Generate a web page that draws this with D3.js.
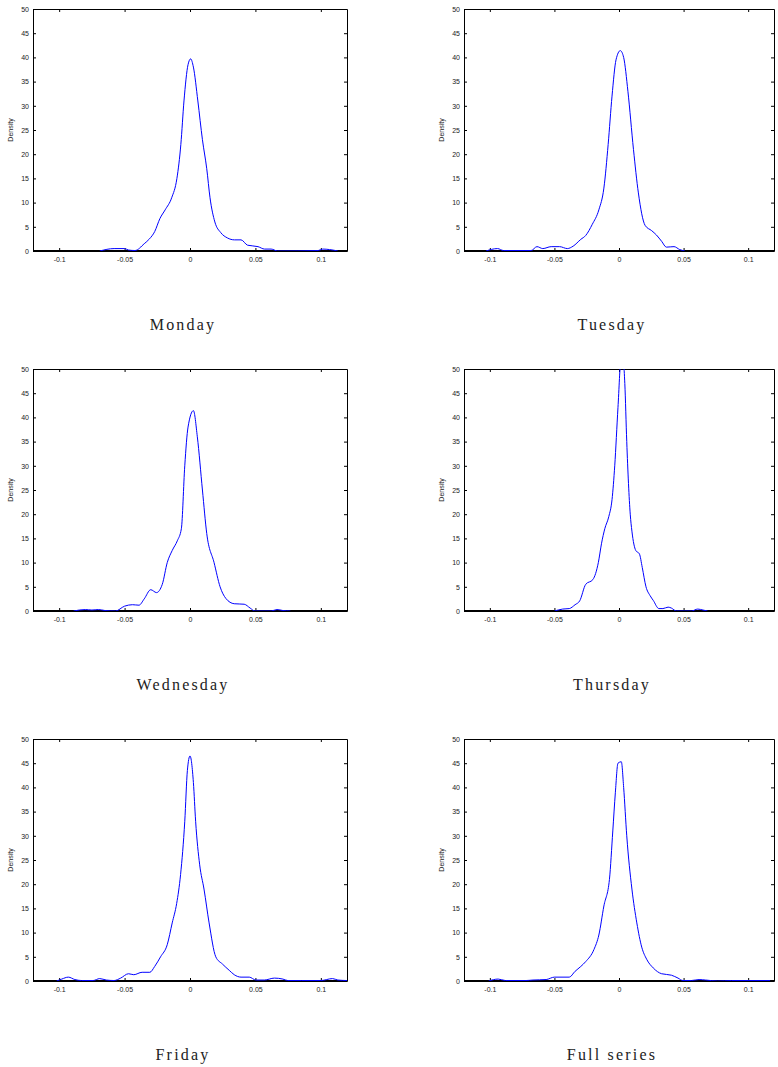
<!DOCTYPE html>
<html>
<head>
<meta charset="utf-8">
<script src="https://cdn.jsdelivr.net/npm/d3@7"></script>
<style>
  body { margin: 0; background: #fff; }
  svg { display: block; }
</style>
</head>
<body>
<script>
//------------ DATA ----------------------------------
const days = ["Monday", "Tuesday", "Wednesday", "Thursday", "Friday", "Full series"];

const xTicks = [-0.1, -0.05, 0, 0.05, 0.1],
    xTickLabels = ["-0.1", "-0.05", "0", "0.05", "0.1"],
    yTicks = [0, 5, 10, 15, 20, 25, 30, 35, 40, 45, 50];

// density curves: [return, density]
const monday = [
  [-0.069, 0], [-0.058, 0.5], [-0.050, 0.5], [-0.047, 0.2], [-0.042, 0.1], [-0.035, 1.5],
  [-0.031, 2.5], [-0.027, 4], [-0.023, 6.7], [-0.019, 8.5], [-0.014, 11], [-0.010, 15],
  [-0.007, 22], [-0.0046, 31], [-0.0015, 38.5], [0.0005, 39.7], [0.0026, 38], [0.006, 31],
  [0.0095, 23], [0.0128, 17], [0.0153, 11], [0.019, 6], [0.0235, 3.8], [0.0286, 2.7],
  [0.034, 2.3], [0.039, 2.3], [0.044, 1.2], [0.052, 0.9], [0.057, 0.4], [0.062, 0.4],
  [0.067, 0], [0.098, 0.1], [0.1015, 0.4], [0.1066, 0.3], [0.113, 0]
];
const tuesday = [
  [-0.103, 0], [-0.094, 0.5], [-0.0895, 0.1], [-0.068, 0.1], [-0.0635, 0.9], [-0.059, 0.5],
  [-0.0525, 0.9], [-0.046, 0.9], [-0.040, 0.5], [-0.0355, 1.0], [-0.0296, 2.4], [-0.0258, 3.2],
  [-0.0207, 5.5], [-0.0156, 8.5], [-0.0117, 13], [-0.0084, 22], [-0.0054, 32], [-0.0023, 39.5],
  [0.001, 41.4], [0.0036, 40], [0.0069, 33], [0.0112, 21], [0.015, 12], [0.0202, 5.3],
  [0.0253, 4.2], [0.029, 3.3], [0.033, 2], [0.0367, 0.8], [0.0426, 0.9], [0.047, 0.3], [0.051, 0]
];
const wednesday = [
  [-0.089, 0], [-0.080, 0.3], [-0.075, 0.2], [-0.070, 0.3], [-0.065, 0.1], [-0.057, 0],
  [-0.050, 1.0], [-0.044, 1.3], [-0.039, 1.2], [-0.035, 2.5], [-0.030, 4.4], [-0.0256, 3.8],
  [-0.0212, 5.5], [-0.0174, 10], [-0.0136, 12.5], [-0.0097, 14.5], [-0.0066, 17], [-0.004, 30],
  [-0.0015, 38], [0.0026, 41.4], [0.0056, 36], [0.0095, 25], [0.0128, 16], [0.0184, 10],
  [0.023, 5], [0.0274, 2.6], [0.0338, 1.5], [0.0414, 1.4], [0.046, 0.6], [0.0496, 0],
  [0.062, 0], [0.0665, 0.3], [0.071, 0.1], [0.0767, 0]
];
const thursday = [
  [-0.050, 0], [-0.0436, 0.4], [-0.0385, 0.5], [-0.034, 1.3], [-0.0304, 2.1], [-0.0258, 5.5],
  [-0.0202, 6.5], [-0.016, 10], [-0.0135, 14], [-0.011, 17], [-0.0079, 19.5], [-0.0054, 23],
  [-0.0033, 30], [-0.0008, 42], [0.0015, 51.5], [0.0035, 51], [0.0045, 47], [0.006, 35],
  [0.0087, 20], [0.010, 16.5], [0.013, 12.5], [0.0158, 11.8], [0.018, 9], [0.0209, 5],
  [0.024, 3.2], [0.0265, 2.2], [0.0309, 0.5], [0.034, 0.5], [0.038, 0.8], [0.0406, 0.6],
  [0.0444, 0], [0.056, 0], [0.061, 0.4], [0.065, 0.2], [0.0686, 0]
];
const friday = [
  [-0.102, 0], [-0.098, 0.4], [-0.093, 0.8], [-0.088, 0.3], [-0.083, 0.1], [-0.074, 0.1],
  [-0.069, 0.5], [-0.064, 0.2], [-0.058, 0.1], [-0.053, 0.6], [-0.047, 1.5], [-0.043, 1.3],
  [-0.0366, 1.8], [-0.0307, 1.8], [-0.027, 3], [-0.0225, 5], [-0.0174, 7.5], [-0.0136, 12],
  [-0.0102, 16], [-0.0072, 22], [-0.004, 33], [-0.002, 43.5], [0, 46.5], [0.0026, 41],
  [0.0043, 33], [0.0074, 24], [0.0107, 19], [0.0146, 12], [0.0197, 5], [0.0248, 3.5],
  [0.030, 2.2], [0.0338, 1.3], [0.039, 0.8], [0.0453, 0.8], [0.0504, 0.2], [0.0568, 0.2],
  [0.0645, 0.6], [0.071, 0.4], [0.0747, 0.1], [0.085, 0.1], [0.100, 0.1], [0.109, 0.5],
  [0.113, 0.2], [0.120, 0.1]
];
const fullSeries = [
  [-0.101, 0], [-0.0935, 0.4], [-0.088, 0.1], [-0.072, 0.1], [-0.0666, 0.2], [-0.0564, 0.3],
  [-0.050, 0.8], [-0.0385, 0.8], [-0.034, 2], [-0.0296, 3], [-0.0258, 4], [-0.0194, 6.5],
  [-0.0156, 9.5], [-0.0117, 15.5], [-0.0074, 21], [-0.0048, 31], [-0.0028, 39], [-0.0008, 45],
  [0.0018, 45.3], [0.0036, 40], [0.006, 30], [0.010, 19], [0.0138, 12], [0.0176, 7],
  [0.0214, 4.5], [0.0265, 2.7], [0.033, 1.5], [0.0406, 1.2], [0.0457, 0.6], [0.0495, 0.1],
  [0.056, 0.1], [0.062, 0.3], [0.067, 0.2], [0.0765, 0], [0.087, 0.1], [0.117, 0.1]
];

const series = [monday, tuesday, wednesday, thursday, friday, fullSeries];
//----------------------------------------------------


//-----------SET UP SVG -------------------
const width = 778,
    height = 1067;

const svg = d3.select("body").append("svg")
    .attr("width", width)
    .attr("height", height);

// panel boxes: left/right columns, three rows
const colX = [[33, 347], [464, 774]],
    rowY = [9, 369, 739],
    panelH = 242;
//-----------------------------------------


//--------------DRAW PANELS -------------------------------
series.forEach(function(data, i) {
    const col = i % 2,
        row = Math.floor(i / 2),
        x0 = colX[col][0], x1 = colX[col][1],
        y0 = rowY[row], y1 = y0 + panelH;

    const x = d3.scaleLinear().domain([-0.12, 0.12]).range([x0, x1]);
    const y = d3.scaleLinear().domain([0, 50]).range([y1, y0]);

    const g = svg.append("g");

    // clip so the Thursday peak is cut at the top
    const clipId = "clip" + i;
    g.append("clipPath").attr("id", clipId)
      .append("rect")
        .attr("x", x0).attr("y", y0)
        .attr("width", x1 - x0).attr("height", panelH);

    // axes with inward ticks, mirrored on every side
    const fmtX = (d, k) => xTickLabels[k];
    g.append("g")
        .attr("transform", `translate(0,${y1})`)
        .call(d3.axisBottom(x).tickValues(xTicks).tickFormat(fmtX).tickSizeInner(-3).tickSizeOuter(0).tickPadding(6));
    g.append("g")
        .attr("transform", `translate(0,${y0})`)
        .call(d3.axisTop(x).tickValues(xTicks).tickFormat("").tickSizeInner(-3).tickSizeOuter(0));
    g.append("g")
        .attr("transform", `translate(${x0},0)`)
        .call(d3.axisLeft(y).tickValues(yTicks).tickSizeInner(-3).tickSizeOuter(0).tickPadding(4));
    g.append("g")
        .attr("transform", `translate(${x1},0)`)
        .call(d3.axisRight(y).tickValues(yTicks).tickFormat("").tickSizeInner(-3).tickSizeOuter(0));

    g.selectAll(".domain").attr("stroke", "#000");
    g.selectAll(".tick line").attr("stroke", "#000");
    g.selectAll(".tick text")
        .attr("fill", "#222")
        .style("font-family", "Liberation Sans, Arial, sans-serif")
        .style("font-size", "7px");

    // bottom edge is drawn heavier
    g.append("line")
        .attr("x1", x0).attr("x2", x1)
        .attr("y1", y1).attr("y2", y1)
        .attr("stroke", "#000").attr("stroke-width", 2);

    // density curve
    const line = d3.line()
        .x(d => x(d[0]))
        .y(d => y(d[1]))
        .curve(d3.curveMonotoneX);

    g.append("path")
        .datum(data)
        .attr("clip-path", `url(#${clipId})`)
        .attr("fill", "none")
        .attr("stroke", "#0000ff")
        .attr("stroke-width", 1)
        .attr("d", line);

    // y label
    g.append("text")
        .attr("transform", `translate(${x0 - 20},${(y0 + y1) / 2}) rotate(-90)`)
        .attr("text-anchor", "middle")
        .attr("fill", "#222")
        .style("font-family", "Liberation Sans, Arial, sans-serif")
        .style("font-size", "7px")
        .text("Density");

    // panel caption
    g.append("text")
        .attr("x", (x0 + x1) / 2 - 7)
        .attr("y", y0 + 321)
        .attr("text-anchor", "middle")
        .attr("fill", "#222")
        .style("font-family", "Liberation Serif, DejaVu Serif, serif")
        .style("font-size", "16px")
        .style("letter-spacing", "2.2px")
        .text(days[i]);
});
//---------------------------------------------------------
</script>
</body>
</html>
